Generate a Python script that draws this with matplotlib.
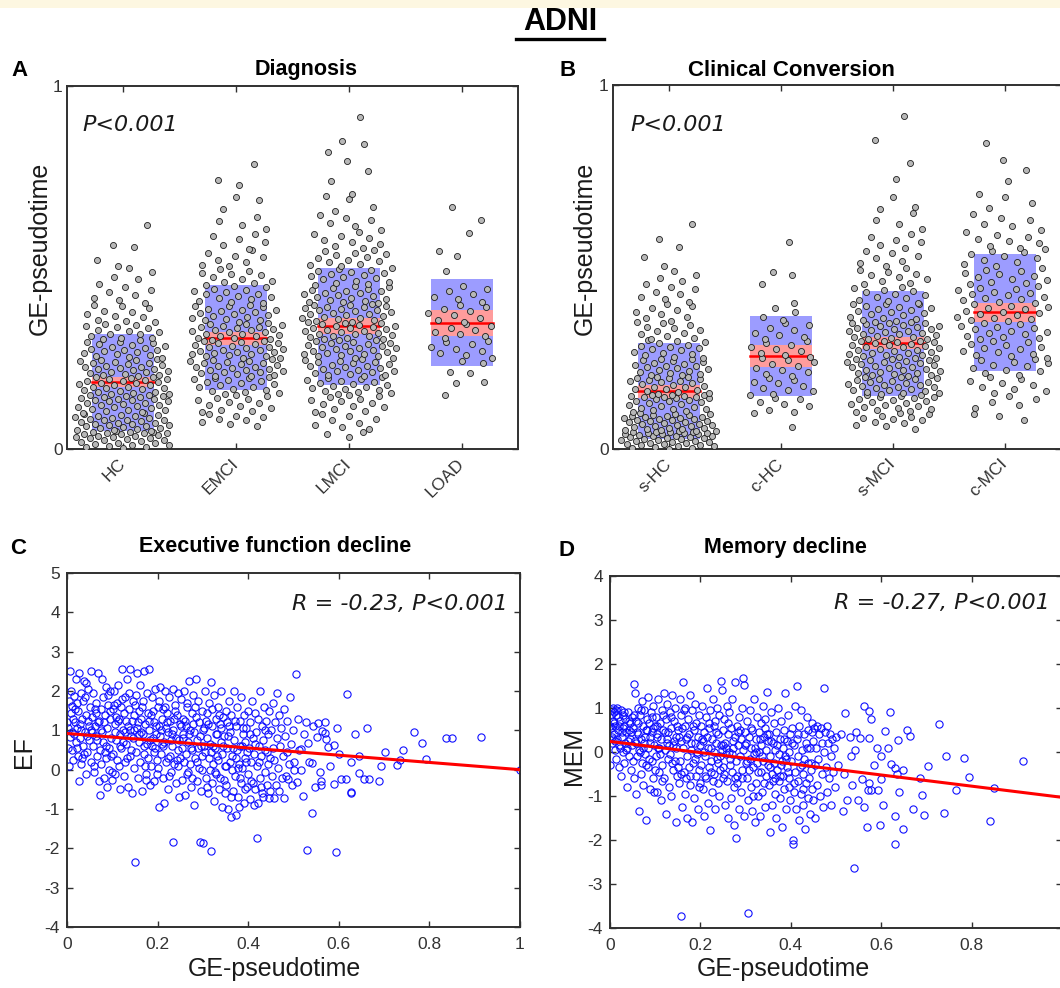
import numpy as np
import matplotlib
matplotlib.use('Agg')
import matplotlib.pyplot as plt
from matplotlib.patches import Rectangle
from matplotlib.lines import Line2D

plt.rcParams['font.family'] = ['Liberation Sans', 'DejaVu Sans']

# ---------------- data ----------------
diag_cats = ['HC', 'EMCI', 'LMCI', 'LOAD']
conv_cats = ['s-HC', 'c-HC', 's-MCI', 'c-MCI']

# GE-pseudotime per subject (x1000)
hc = [3,5,6,9,10,12,15,16,17,20,22,24,25,27,29,30,32,33,36,37,38,40,41,43,44,45,46,47,48,49,
      50,52,53,55,57,58,61,62,63,66,67,69,70,72,73,75,78,79,80,81,84,85,86,88,90,91,93,95,97,98,
      100,102,104,107,108,111,112,115,117,118,120,122,125,126,128,131,132,134,136,137,139,140,143,144,145,146,148,149,
      151,152,155,156,158,161,162,164,167,168,171,172,175,176,178,181,183,184,186,188,190,192,194,195,197,199,
      200,203,204,206,209,211,213,215,217,220,221,224,225,227,230,232,233,236,238,240,242,245,246,249,
      251,253,257,258,262,264,266,269,272,274,276,279,281,283,286,289,291,294,296,299,
      302,305,307,312,316,318,322,325,327,332,335,339,342,345,349,
      353,356,363,366,371,378,381,388,393,398,402,411,416,425,433,437,447,
      454,468,473,487,498,503,521,556,561,617]
emci = [62,68,74,79,83,88,92,97,101,105,108,113,118,121,126,129,134,137,140,145,148,
        151,153,157,161,163,166,170,172,175,179,181,184,188,189,192,195,196,199,
        200,202,205,206,208,211,212,215,218,219,221,224,225,227,230,231,233,236,237,239,242,243,246,248,
        250,252,255,256,258,261,262,264,267,268,270,273,274,276,279,280,282,285,286,288,291,292,294,297,298,
        301,303,306,307,310,312,315,316,318,321,322,324,327,328,331,333,336,337,339,342,343,345,348,
        351,354,356,359,361,364,367,369,372,374,377,379,382,384,387,391,393,395,398,
        402,406,409,413,415,419,422,426,428,432,435,438,441,445,448,
        452,457,461,464,469,473,478,481,486,490,495,503,508,516,520,528,533,540,547,
        552,563,571,579,588,593,606,617,629,640,661,687,693,728,741,784]
lmci = [34,42,47,56,61,67,72,79,84,90,96,102,106,111,115,119,124,128,131,136,139,142,146,149,
        151,154,157,159,162,165,168,171,174,176,179,182,185,188,191,193,196,198,
        200,203,205,207,210,212,214,216,219,221,223,225,228,230,232,234,237,239,241,243,246,248,
        251,252,255,257,259,261,263,265,267,269,271,273,275,277,279,281,283,285,287,289,291,293,295,297,299,
        300,302,304,306,308,310,312,314,316,318,320,322,324,326,328,330,332,334,336,338,340,342,344,346,347,349,
        351,353,355,357,360,362,364,366,368,371,373,375,377,379,382,384,386,388,390,392,394,396,398,399,
        401,404,406,409,411,414,416,419,421,424,426,429,431,434,436,439,441,444,446,449,
        452,455,458,461,464,467,470,473,476,479,482,485,488,491,493,496,499,
        503,507,511,514,518,522,526,530,534,538,541,545,548,553,559,564,569,575,580,586,591,597,
        604,613,622,631,637,645,656,668,689,697,702,738,766,794,818,839,848,914]
load = [150,181,184,210,213,236,243,252,259,265,271,276,282,288,294,298,305,311,317,322,328,333,339,
        345,351,356,362,368,374,379,385,392,398,405,412,419,426,434,441,449,490,532,545,595,630,667]

shc = [1,3,4,6,7,9,10,11,13,14,16,17,19,20,21,23,24,25,27,28,30,31,32,33,35,36,37,38,40,41,42,43,44,45,46,47,48,48,49,49,
       50,52,53,55,56,58,59,61,62,64,65,67,68,70,71,73,74,76,77,79,80,82,83,85,86,87,89,90,91,93,94,95,97,98,
       101,104,106,109,111,114,116,119,121,124,126,129,131,133,135,137,139,140,142,143,144,145,146,147,148,149,
       151,154,156,159,161,164,166,169,171,174,176,179,181,184,186,188,190,192,194,196,197,199,
       202,204,207,209,212,214,217,219,222,224,227,229,232,234,237,239,242,244,246,248,
       251,254,257,261,264,267,271,274,277,281,284,287,290,293,296,299,
       302,306,311,315,319,324,328,332,336,341,345,349,353,359,364,371,376,381,386,392,397,
       403,411,418,425,432,439,446,452,461,470,479,488,504,527,556,577,618]
chc = [60,100,102,108,117,123,130,136,141,147,152,158,163,168,174,180,185,190,196,201,206,212,217,222,228,
       233,238,244,249,254,259,265,270,275,281,286,292,297,303,308,314,320,326,333,340,347,355,363,375,387,
       400,452,478,485,568]
smci = [55,62,67,71,75,79,83,86,89,92,95,98,101,104,107,110,113,116,119,121,124,127,130,132,135,137,140,142,144,146,148,149,
        151,153,155,157,159,161,163,165,167,169,171,173,175,177,179,181,183,185,187,189,191,193,195,197,199,
        200,202,204,206,208,210,212,214,216,218,220,222,224,226,228,230,232,234,236,238,240,242,244,245,246,248,249,
        251,253,255,257,259,261,263,265,267,269,271,273,275,277,279,281,283,285,287,289,291,293,295,296,297,298,
        301,303,305,307,309,311,313,315,317,319,321,323,325,327,329,331,333,335,337,339,341,343,345,346,347,348,349,
        352,355,358,361,364,367,370,373,376,379,382,385,388,391,394,397,398,399,
        402,406,410,414,418,422,426,430,434,438,442,446,452,457,462,467,472,477,482,487,492,497,
        503,510,517,524,531,538,544,552,561,570,575,582,590,604,617,630,647,658,665,693,742,786,849,915]
cmci = [80,90,95,112,121,128,137,146,153,158,164,170,176,182,188,193,198,
        203,208,213,218,222,227,232,236,240,244,248,251,255,259,262,266,270,274,277,281,285,289,293,297,
        301,304,308,311,315,318,322,325,329,332,336,339,343,347,351,354,357,361,364,367,371,374,377,380,384,387,390,394,397,
        401,404,408,411,415,418,422,425,429,432,436,439,443,447,452,456,460,464,468,472,476,480,484,488,492,496,
        503,508,514,519,524,530,535,540,545,549,553,559,565,571,576,582,588,595,
        601,612,618,630,634,646,662,675,693,700,737,767,795,840]

# group summaries (mean, SD box, 95% CI band)
diag_mean = [0.185, 0.306, 0.339, 0.347]
diag_sd_lo = [0.050, 0.163, 0.176, 0.229]
diag_sd_hi = [0.317, 0.452, 0.499, 0.468]
diag_ci_lo = [0.171, 0.286, 0.317, 0.311]
diag_ci_hi = [0.198, 0.322, 0.361, 0.383]
conv_mean = [0.159, 0.255, 0.291, 0.376]
conv_sd_lo = [0.027, 0.146, 0.146, 0.214]
conv_sd_hi = [0.291, 0.365, 0.434, 0.536]
conv_ci_lo = [0.140, 0.225, 0.275, 0.349]
conv_ci_hi = [0.176, 0.286, 0.308, 0.401]

# (GE-pseudotime x1000, EF)
ef_pairs = [(2,0.55),(4,1.75),(6,2.52),(8,1.45),(10,0.95),(12,1.62),(14,0.25),(15,1.88),(17,1.2),(19,0.7),(20,2.3),(22,1.05),(24,0.35),(25,1.5),(27,2.45),(28,0.8),(30,1.95),(31,0.15),(33,1.3),(35,0.6),(36,1.75),(38,2.25),(40,0.95),(41,-0.1),(43,1.4),(45,0.45),(46,2.05),(48,1.1),(49,0.75),(50,1.6),(3,1.05),(7,0.82),(13,1.3),(18,1.55),(23,0.55),(29,1.15),(34,0.3),(39,1.85),(44,0.85),(47,1.25),
    (52,2.5),(54,0.2),(55,1.35),(57,0.6),(58,1.95),(60,-0.05),(62,1.1),(63,0.85),(65,1.7),(66,0.35),(68,2.45),(70,-0.3),(71,1.25),(72,0.5),(73,-0.65),(75,1.55),(76,0.15),(78,0.95),(79,1.85),(80,0.7),(82,-0.2),(83,1.4),(85,2.1),(86,0.3),(88,1.05),(89,-0.45),(90,1.65),(92,0.55),(93,0.0),(95,1.3),(96,2.0),(98,0.8),(99,-0.05),(56,0.95),(64,1.45),(74,1.0),(81,1.2),(87,0.6),(94,1.5),(97,0.35),
    (101,1.55),(102,0.4),(104,2.0),(105,-0.1),(107,1.15),(108,0.75),(110,1.7),(111,0.25),(113,2.15),(114,1.3),(116,-0.5),(117,0.9),(119,1.6),(120,0.55),(122,2.55),(123,1.0),(125,-0.15),(126,1.45),(128,0.2),(129,1.85),(131,0.65),(132,2.3),(134,1.1),(135,-0.45),(137,1.55),(138,0.35),(140,2.55),(141,0.85),(143,1.25),(144,-0.6),(146,1.75),(147,0.05),(149,1.0),(103,1.65),(112,1.25),(118,0.6),(127,0.95),(136,1.95),(142,0.5),(148,1.4),
    (150,-2.34),(151,1.65),(152,0.45),(154,2.45),(155,1.05),(157,-0.2),(158,1.5),(159,0.7),(161,2.15),(162,0.2),(164,1.3),(165,-0.55),(167,0.9),(168,1.75),(170,0.4),(171,2.5),(173,1.15),(174,-0.1),(176,0.65),(177,1.95),(179,0.3),(180,2.57),(182,1.0),(183,-0.4),(185,1.4),(186,0.1),(188,1.85),(189,0.8),(191,1.2),(192,-0.3),(194,0.55),(195,2.05),(197,1.1),(198,0.25),(200,1.6),(156,1.2),(163,0.95),(172,0.1),(178,1.45),(187,0.6),(196,0.9),
    (201,0.05),(202,1.75),(204,-0.95),(205,0.85),(206,2.1),(208,0.4),(209,1.3),(211,-0.2),(212,1.55),(214,0.7),(215,-0.85),(216,2.0),(218,1.05),(219,0.2),(221,1.45),(222,-0.5),(224,0.95),(225,1.85),(227,0.35),(228,1.25),(230,-0.05),(231,0.6),(233,2.05),(234,-1.84),(235,1.0),(237,0.15),(238,1.65),(240,-0.35),(241,0.8),(243,1.4),(244,0.5),(246,1.95),(247,-0.7),(249,1.15),(250,0.3),(207,1.0),(213,0.6),(220,1.2),(226,-0.15),(232,0.9),(239,1.5),(245,0.1),
    (251,1.8),(253,0.55),(254,-0.25),(256,1.3),(257,0.8),(259,2.0),(260,-0.65),(262,0.4),(263,1.1),(265,-0.1),(266,1.6),(268,0.7),(269,2.25),(271,0.15),(272,1.0),(274,-0.45),(275,1.45),(277,0.5),(278,1.9),(280,-0.9),(281,0.95),(283,0.3),(284,1.35),(285,2.3),(286,-0.3),(288,0.75),(289,1.75),(291,0.05),(292,1.2),(294,-1.84),(295,0.6),(296,-0.55),(298,1.5),(299,0.35),(301,-1.86),(255,0.9),(261,1.25),(267,-0.05),(273,0.55),(279,1.15),(287,0.2),(293,0.85),(297,0.0),
    (302,1.05),(304,0.45),(305,2.0),(307,-0.2),(308,0.8),(310,1.45),(311,-0.6),(313,0.3),(314,1.7),(316,0.65),(318,-2.07),(318,2.23),(319,-0.35),(321,1.1),(322,0.15),(324,1.9),(325,-0.8),(327,0.55),(328,1.3),(330,-0.1),(331,0.9),(333,1.6),(334,0.25),(336,-0.5),(337,1.15),(339,0.7),(340,2.0),(342,-0.95),(343,0.4),(344,1.35),(346,-0.25),(347,0.85),(349,0.1),(350,1.5),(306,1.25),(315,0.0),(323,0.6),(332,0.35),(341,1.05),(348,-0.6),
    (351,-0.4),(353,1.2),(354,0.55),(356,-1.0),(357,1.75),(359,0.2),(360,0.95),(362,-1.2),(363,1.4),(365,0.35),(366,-0.55),(368,2.0),(369,0.75),(371,-0.15),(372,1.1),(373,-1.15),(375,0.5),(376,1.6),(378,-0.7),(379,0.15),(381,1.25),(382,0.6),(384,-0.35),(385,1.85),(387,0.05),(388,0.9),(390,-0.85),(391,1.4),(393,0.3),(394,-0.5),(396,1.05),(397,0.45),(399,-0.1),(400,1.5),(355,0.85),(364,0.0),(374,0.3),(383,-0.2),(392,0.7),
    (401,0.55),(403,-0.75),(404,1.2),(406,0.2),(407,-0.3),(409,1.75),(410,0.8),(412,-0.9),(413,0.4),(415,1.45),(416,-0.5),(418,0.95),(419,0.1),(420,-1.74),(421,1.3),(422,-0.85),(424,0.6),(425,2.0),(427,-0.2),(428,0.35),(430,1.1),(431,-0.6),(433,0.75),(435,1.6),(436,-0.05),(438,0.5),(440,1.25),(441,-0.4),(443,0.15),(444,0.9),(446,-0.72),(447,1.5),(449,0.3),(432,-0.7),
    (451,1.0),(452,-0.15),(454,0.55),(455,1.7),(456,-0.71),(458,0.25),(460,1.2),(461,-0.4),(463,0.8),(464,1.95),(466,0.05),(468,1.4),(469,-0.55),(471,0.6),(473,1.05),(474,-0.2),(476,0.35),(478,-0.71),(479,1.55),(481,0.85),(483,-0.15),(485,0.45),(486,1.25),(488,-0.24),(490,0.15),(492,1.85),(494,0.65),(496,-0.4),(498,1.0),(500,0.2),
    (502,0.0),(506,2.44),(508,-0.32),(510,1.3),(513,0.5),(517,-0.01),(517,0.52),(520,-0.66),(524,0.9),(527,1.21),(530,-2.04),(531,0.67),(535,0.2),(541,-1.09),(541,0.17),(544,1.11),(548,-0.45),(551,0.82),(555,1.18),(559,-0.05),(560,-0.39),(560,-0.28),(563,0.99),(569,0.94),(569,1.2),(572,0.78),(576,0.57),(580,0.1),(589,-0.37),(590,0.63),(594,-2.09),(597,1.07),(600,0.4),
    (605,-0.23),(616,-0.23),(618,1.92),(626,0.19),(628,-0.6),(628,-0.57),(635,0.91),(645,-0.08),(645,0.34),(655,-0.24),(662,1.05),(666,-0.24),(689,-0.3),(693,0.1),(701,0.46),
    (728,0.13),(736,0.25),(741,0.51),(767,0.95),(783,0.68),(793,0.26),(836,0.81),(849,0.81),(915,0.83),(1000,0.0),
    (1,1.2),(5,0.1),(9,2.0),(11,0.5),(16,0.9),(21,1.7),(26,-0.3),(32,1.0),(37,0.4),(42,2.2),(53,1.0),(59,0.1),(61,1.55),(67,0.75),(69,1.2),(77,2.3),(84,0.45),(91,1.9),(100,-0.25),(106,0.95),(109,1.35),(115,0.1),(121,1.8),(124,0.7),(130,1.25),(133,0.3),(139,1.0),(145,0.8),(153,1.9),(160,0.9),(166,1.6),(169,0.6),(175,-0.25),(181,1.25),(184,0.75),(190,1.5),(193,0.45),(199,-0.1),(203,1.1),(210,0.65),(217,1.6),(223,0.3),(229,0.75),(236,1.3),(242,0.25),(248,0.75),(252,1.1),(258,0.2),(264,1.7),(270,0.9),(276,-0.2),(282,1.6),(290,0.55),(300,1.0),(303,0.6),(309,-0.45),(312,1.15),(317,0.45),(320,1.55),(326,-0.05),(329,0.9),(335,1.4),(338,-0.2),(345,0.6),(352,0.1),(358,1.1),(361,-0.7),(367,0.55),(370,1.25),(377,0.05),(380,-0.95),(386,0.6),(389,1.05),(395,0.2),(398,-0.45),(405,0.9),(411,-0.35),(414,0.65),(423,0.2),(429,-0.45),(437,1.0),(442,0.45),(448,-0.55)]

# (GE-pseudotime x1000, MEM)
mem_pairs = [(0,-0.3),(2,0.85),(3,0.55),(4,0.95),(5,0.2),(6,0.7),(8,0.4),(9,0.9),(10,0.05),(12,0.6),(13,0.95),(14,-0.15),(16,0.3),(17,0.8),(18,0.5),(20,-0.35),(21,0.15),(22,0.7),(24,0.95),(25,-0.55),(26,0.35),(28,0.85),(29,0.0),(30,0.6),(32,-0.25),(33,0.2),(34,0.75),(36,0.45),(37,-0.8),(38,0.1),(40,0.9),(41,0.5),(42,-0.1),(44,0.3),(45,0.65),(46,-0.4),(48,0.15),(49,0.8),(50,-0.2),(7,0.3),(15,1.0),(27,0.45),(39,0.25),
    (51,0.55),(52,-0.6),(54,1.54),(55,1.33),(56,0.25),(57,-0.95),(58,0.7),(60,-0.1),(61,1.0),(62,0.4),(64,-1.35),(65,0.05),(66,0.85),(68,-0.5),(69,0.3),(70,1.15),(71,-0.25),(72,0.6),(74,-0.75),(75,0.2),(76,0.95),(78,-0.05),(79,0.5),(80,-1.55),(81,0.75),(83,-0.35),(84,1.25),(85,0.1),(87,0.65),(88,-0.85),(89,0.35),(91,0.9),(92,-0.2),(93,0.45),(95,-0.6),(96,1.05),(97,0.15),(99,-0.4),(100,0.6),(59,0.45),(67,0.0),(77,0.35),(86,-0.15),(94,0.8),
    (101,-0.1),(102,0.8),(104,-0.9),(105,0.35),(106,1.2),(108,-0.45),(109,0.1),(110,0.65),(112,-1.1),(113,0.3),(115,0.95),(116,-0.3),(117,0.5),(119,1.35),(120,-0.6),(121,0.05),(123,0.75),(124,-1.4),(125,0.2),(127,1.1),(128,-0.15),(129,0.45),(131,-0.8),(132,0.9),(133,-0.05),(135,0.55),(136,-1.0),(137,1.3),(139,0.15),(140,-0.4),(141,0.7),(143,-0.2),(144,1.0),(145,-1.6),(147,0.35),(148,-0.55),(149,0.6),(103,0.4),(111,-0.05),(126,0.3),(138,-0.25),(146,0.1),
    (151,0.5),(152,-0.7),(154,1.2),(155,-0.2),(156,0.25),(157,-3.73),(158,0.85),(159,-1.25),(161,0.1),(162,1.6),(163,-0.45),(165,0.6),(166,-0.95),(167,1.0),(169,0.3),(170,-0.1),(171,-1.5),(173,0.75),(174,-0.35),(175,0.4),(177,1.3),(178,-0.75),(179,0.05),(181,0.95),(182,-1.58),(183,-0.25),(185,0.5),(186,-1.05),(187,0.2),(189,1.1),(190,-0.55),(191,0.65),(193,-0.05),(194,-1.3),(195,0.35),(197,0.85),(198,-0.4),(199,0.15),(160,0.55),(168,-0.6),(180,0.2),(188,-0.15),(196,-0.8),
    (201,0.6),(202,-0.3),(204,1.05),(205,-0.85),(206,0.25),(208,-1.45),(209,0.45),(210,-0.1),(212,0.8),(213,-0.6),(214,1.45),(216,0.1),(217,-1.15),(219,-0.35),(220,0.55),(221,-1.78),(222,0.95),(224,-0.2),(225,0.3),(226,-0.9),(228,1.2),(229,0.0),(230,-0.5),(232,0.7),(233,-1.3),(234,0.2),(236,-0.15),(237,1.0),(238,-0.7),(240,0.4),(241,-1.0),(242,0.85),(244,-0.4),(245,1.62),(246,0.15),(248,1.4),(249,-0.6),(250,0.5),(207,0.0),(215,0.35),(223,-0.45),(231,0.6),(239,-0.25),(247,0.05),
    (251,-0.35),(252,0.75),(254,-1.2),(255,0.2),(256,-0.05),(258,1.05),(259,-0.65),(260,0.4),(262,-1.5),(263,0.0),(264,0.9),(266,-0.3),(267,-1.05),(268,0.55),(270,-0.45),(271,1.2),(272,0.1),(274,-0.8),(275,-1.65),(276,0.35),(277,1.6),(278,-0.2),(279,-1.96),(281,0.6),(282,-0.55),(283,0.15),(285,-1.3),(286,0.8),(287,-0.1),(289,0.3),(290,-0.9),(291,1.0),(293,-0.4),(294,1.68),(295,0.05),(296,1.52),(297,-1.45),(299,0.45),(300,-0.25),(257,0.1),(265,-0.15),(273,0.25),(280,-0.7),(288,0.5),
    (301,0.2),(302,-0.6),(304,0.7),(305,-3.66),(306,-1.1),(307,0.35),(309,-0.15),(310,0.95),(311,-0.8),(313,0.1),(314,-1.35),(315,0.5),(317,-0.35),(318,1.2),(319,-0.05),(321,-1.6),(322,0.3),(323,-0.7),(325,0.8),(326,-0.25),(327,-1.0),(329,0.45),(330,0.0),(331,-1.45),(333,0.65),(334,-0.45),(335,0.15),(337,-0.9),(338,1.05),(339,-0.2),(341,0.35),(342,-1.25),(343,0.55),(345,-0.55),(346,0.05),(348,1.36),(349,-0.3),(350,0.25),(308,-0.4),(324,0.0),(336,-0.1),(344,0.75),
    (351,-0.75),(352,0.4),(354,-1.82),(355,-0.1),(356,0.9),(358,-0.5),(359,-1.2),(360,0.2),(362,-0.25),(363,0.65),(364,-0.95),(366,0.05),(367,-1.5),(368,0.45),(370,-0.4),(371,1.0),(373,-0.65),(374,-0.05),(375,0.3),(377,-1.05),(378,-0.3),(379,0.7),(381,-1.7),(382,0.1),(383,-0.55),(385,0.5),(386,-0.85),(387,1.35),(389,-0.15),(390,-1.3),(391,0.25),(393,-0.45),(394,0.85),(395,-0.8),(397,0.0),(398,-1.1),(399,0.4),(365,-0.6),(380,-0.2),(392,-0.35),
    (401,-0.2),(402,0.55),(404,-2.1),(405,-2.0),(406,-0.9),(407,0.15),(409,-0.45),(410,1.05),(411,-1.3),(413,1.49),(414,0.3),(415,-0.65),(417,-0.1),(418,-1.55),(419,0.6),(421,-0.35),(422,0.95),(423,-0.95),(425,0.05),(426,-1.2),(427,-0.5),(429,0.4),(430,-0.15),(431,-1.75),(433,0.2),(434,-0.7),(435,0.8),(437,-1.05),(438,-0.25),(439,0.5),(441,-0.6),(442,-1.4),(443,0.1),(445,-0.4),(446,0.65),(447,-0.85),(449,0.25),(450,-1.1),
    (451,0.55),(453,-0.3),(454,-1.5),(456,0.1),(458,-0.75),(459,0.6),(461,-0.15),(463,0.4),(464,-1.0),(466,0.55),(468,0.2),(469,-0.5),(471,-1.25),(473,1.45),(474,0.0),(476,0.45),(478,-0.35),(479,0.6),(481,-0.9),(483,0.2),(485,-0.6),(486,0.4),(488,-1.2),(490,-0.1),(492,0.3),(494,-0.45),(496,0.1),(498,-0.8),(500,0.35),
    (505,-0.3),(512,0.4),(518,-0.5),(520,0.88),(525,-1.1),(530,0.35),(533,-0.1),(540,-2.64),(542,0.05),(549,-1.1),(552,0.31),(558,-0.61),(562,-1.24),(563,1.05),(569,-1.7),(571,-0.86),(572,0.93),(573,0.31),(574,-0.7),(578,0.75),(578,-0.86),(591,0.09),(593,-0.86),(597,-1.67),(599,-0.09),(600,-0.62),(545,0.45),(535,-0.75),(515,-1.35),(585,-0.3),
    (609,0.48),(619,0.91),(622,-0.27),(631,-0.36),(631,-1.45),(631,-2.09),(635,-0.5),(638,0.27),(648,-0.42),(648,-1.76),(656,0.49),(664,0.36),(670,-1.3),(691,-0.98),(695,-1.43),(703,-0.32),(605,-1.2),(640,-0.9),(615,0.1),(685,-0.6),
    (728,0.64),(738,-1.39),(743,-0.09),(766,-0.86),(784,-0.13),(795,-0.57),(840,-1.56),(849,-0.82),(913,-0.2),
    (1,0.6),(4,0.35),(6,1.0),(9,0.65),(11,0.25),(14,0.85),(19,0.6),(23,0.1),(28,0.55),(31,0.9),(35,0.05),(43,0.7),(47,0.45),(53,0.85),(58,0.2),(63,0.65),(68,0.95),(73,0.1),(79,-0.3),(82,0.5),(88,0.2),(95,0.55),(98,-0.9),(104,0.6),(107,0.1),(114,-0.65),(118,0.85),(122,0.45),(130,0.15),(134,0.8),(142,0.25),(150,-0.35),(153,0.35),(158,-0.5),(164,0.95),(170,0.35),(176,-0.55),(184,0.6),(192,0.0),(200,-0.7),(203,0.3),(211,-0.55),(218,0.65),(224,0.1),(227,-0.65),(235,0.45),(243,-0.1),(250,0.15),(253,-0.5),(261,0.65),(269,-0.05),(276,-0.6),(284,0.45),(292,-0.6),(298,0.15),(303,-0.2),(312,0.55),(316,-1.0),(320,0.1),(328,-0.45),(332,0.3),(340,-0.7),(347,0.4),(353,-0.35),(357,0.25),(361,-0.65),(369,0.15),(376,-0.55),(384,0.3),(388,-0.1),(396,-0.6),(403,0.2),(408,-0.7),(416,0.4),(424,-0.3),(428,-0.85),(436,0.1),(444,-0.25),(448,0.45)]

# linear fits (intercept, slope)
ef_fit = (0.92, -0.92)
mem_fit = (0.24, -1.27)
ef_stats = 'R = -0.23, P<0.001'
mem_stats = 'R = -0.27, P<0.001'

# ---------------- figure ----------------
W, H = 1060, 988
fig = plt.figure(figsize=(W / 100, H / 100), dpi=100)
fig.patch.set_facecolor('white')


def fx(x):
    return x / W


def fy(y):
    return 1 - y / H


def axes_px(l, t, r, b):
    return fig.add_axes([fx(l), fy(b), (r - l) / W, (b - t) / H])


fig.patches.append(Rectangle((0, fy(8)), 1, 8 / H, transform=fig.transFigure,
                             facecolor='#fdf7e1', edgecolor='none', zorder=0))

SPINE = '#303030'


def style(ax):
    for sp in ax.spines.values():
        sp.set_linewidth(1.4)
        sp.set_color(SPINE)
    ax.tick_params(direction='in', length=4.5, width=1.0, color=SPINE,
                   top=True, right=True, labelsize=12.5, labelcolor='#333333')


def spread(vals, maxw, binw=0.05):
    v = np.asarray(vals, float)
    b = np.floor(v / binw).astype(int)
    uniq, cnt = np.unique(b, return_counts=True)
    cmap = dict(zip(uniq, cnt))
    cmax = cnt.max()
    off = np.empty(len(v))
    seen = {}
    for i, bi in enumerate(b):
        k = seen.get(bi, 0)
        seen[bi] = k + 1
        frac = (0.5 + k * 0.618034 + bi * 0.29) % 1.0
        w = maxw * (0.4 + 0.6 * np.sqrt(cmap[bi] / cmax))
        off[i] = (2 * frac - 1) * w
    return off


def box_panel(ax, groups, cats, mean, sdl, sdh, cil, cih):
    for i, g in enumerate(groups):
        pos = i + 1
        vals = np.asarray(g, float) / 1000.0
        hw = 0.275
        ax.add_patch(Rectangle((pos - hw, sdl[i]), 2 * hw, sdh[i] - sdl[i],
                               facecolor='#9c9cff', edgecolor='none', zorder=1))
        ax.add_patch(Rectangle((pos - hw, cil[i]), 2 * hw, cih[i] - cil[i],
                               facecolor='#ff9c9c', edgecolor='none', zorder=2))
        ax.plot([pos - hw, pos + hw], [mean[i], mean[i]], color='#ff0000', lw=1.8, zorder=3)
        maxw = 0.43 if len(vals) > 100 else 0.3
        xs = pos + spread(vals, maxw)
        ax.scatter(xs, vals, s=19, facecolor='#b8b8b8', edgecolor='#1e1e1e',
                   linewidths=0.6, zorder=4)
    ax.set_xlim(0.5, 4.5)
    ax.set_ylim(0, 1)
    ax.set_yticks([0, 1])
    ax.set_yticklabels(['0', '1'])
    ax.set_xticks([1, 2, 3, 4])
    ax.set_xticklabels(cats, rotation=45, ha='right', va='center',
                       rotation_mode='anchor', fontsize=15)
    style(ax)
    ax.tick_params(axis='x', pad=9)
    ax.tick_params(axis='y', pad=3)


axA = axes_px(67, 86, 518, 449)
box_panel(axA, [hc, emci, lmci, load], diag_cats, diag_mean, diag_sd_lo, diag_sd_hi, diag_ci_lo, diag_ci_hi)
axB = axes_px(613, 85, 1061, 449)
box_panel(axB, [shc, chc, smci, cmci], conv_cats, conv_mean, conv_sd_lo, conv_sd_hi, conv_ci_lo, conv_ci_hi)


def scatter_panel(ax, pairs, fit, ylim, yticks, xlabels):
    arr = np.asarray(pairs, float)
    x = arr[:, 0] / 1000.0
    y = arr[:, 1]
    ax.plot(x, y, linestyle='none', marker='o', markersize=5.2, markerfacecolor='none',
            markeredgecolor='#1010ff', markeredgewidth=0.8, zorder=2)
    xx = np.array([0.0, 1.0])
    ax.plot(xx, fit[0] + fit[1] * xx, color='#ff0000', lw=2.2, zorder=3)
    ax.set_xlim(0, 1)
    ax.set_ylim(*ylim)
    ax.set_xticks([0, 0.2, 0.4, 0.6, 0.8, 1])
    ax.set_xticklabels(xlabels)
    ax.set_yticks(yticks)
    ax.set_yticklabels([str(t) for t in yticks])
    style(ax)
    ax.tick_params(axis='x', pad=7)
    ax.tick_params(axis='y', pad=5)


axC = axes_px(67, 573, 520, 927)
scatter_panel(axC, ef_pairs, ef_fit, (-4, 5), list(range(-4, 6)),
              ['0', '0.2', '0.4', '0.6', '0.8', '1'])
axD = axes_px(610, 576, 1062, 928)
# the '1' label of panel D falls beyond the cropped right edge in the reference
scatter_panel(axD, mem_pairs, mem_fit, (-4, 4), list(range(-4, 5)),
              ['0', '0.2', '0.4', '0.6', '0.8', ''])

# ---------------- texts ----------------
def ftext(x, y, s, **kw):
    fig.text(fx(x), fy(y), s, **kw)


ftext(560, 22, 'ADNI', ha='center', va='center', fontsize=22, fontweight='bold')
fig.add_artist(Line2D([fx(516), fx(604)], [fy(39), fy(39)], color='black', lw=2.4,
                      transform=fig.transFigure))

bold = dict(fontweight='bold', ha='center', va='center')
ftext(306, 70, 'Diagnosis', fontsize=15.5, **bold)
ftext(791, 70, 'Clinical Conversion', fontsize=16, **bold)
ftext(275, 547, 'Executive function decline', fontsize=15.5, **bold)
ftext(785, 548, 'Memory decline', fontsize=15.5, **bold)
for lx, ly, lt in [(20, 70, 'A'), (568, 70, 'B'), (18, 548, 'C'), (566, 550, 'D')]:
    ftext(lx, ly, lt, fontsize=16, **bold)

lab = dict(ha='center', va='center', fontsize=18, color='#1a1a1a')
ftext(40, 248, 'GE-pseudotime', rotation=90, **lab)
ftext(585, 248, 'GE-pseudotime', rotation=90, **lab)
ftext(24, 752, 'EF', rotation=90, **lab)
ftext(574, 756, 'MEM', rotation=90, **lab)
ftext(274, 969, 'GE-pseudotime', **lab)
ftext(783, 969, 'GE-pseudotime', **lab)

ital = dict(fontsize=16, style='italic', va='center', color='#1a1a1a',
            family=['DejaVu Sans'])
ftext(82, 125, 'P<0.001', ha='left', **ital)
ftext(630, 125, 'P<0.001', ha='left', **ital)
ftext(508, 604, ef_stats, ha='right', **ital)
ftext(1050, 603, mem_stats, ha='right', **ital)

fig.savefig('out.png', dpi=100)
